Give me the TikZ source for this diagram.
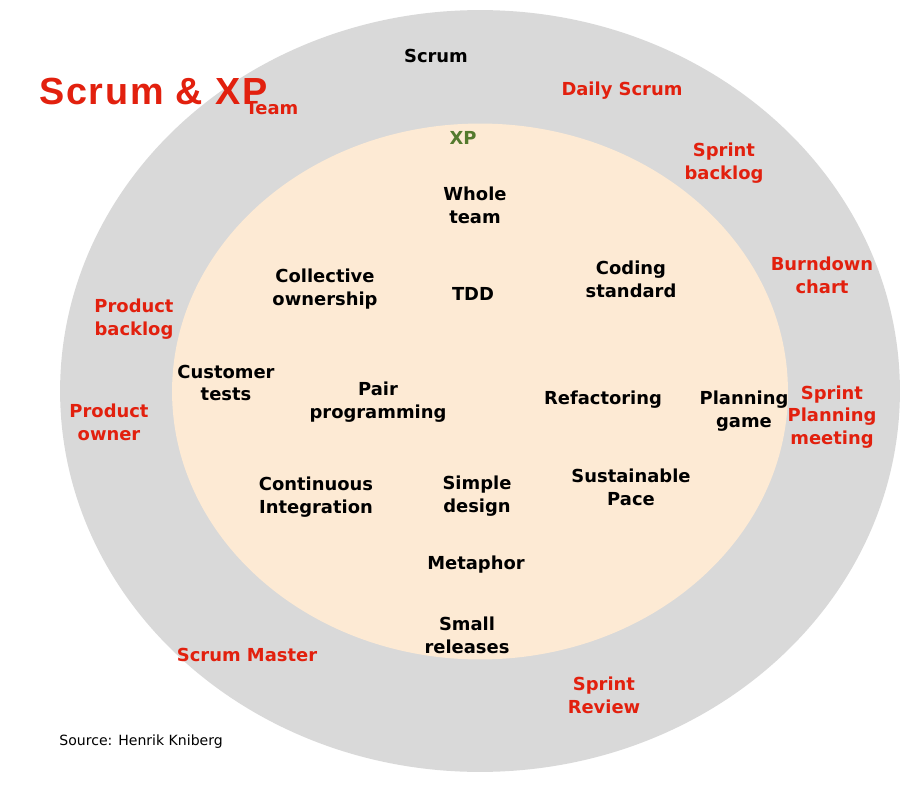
\documentclass[tikz,border=0pt]{standalone}
\usepackage{fontspec}
\setmainfont{DejaVu Sans}
\newfontfamily\titlefont[LetterSpace=4.5]{Liberation Sans}
\usepackage{tikz}
\usetikzlibrary{positioning}

\definecolor{scrumred}{RGB}{226,32,14}
\definecolor{xpgreen}{RGB}{84,122,46}
\definecolor{ringgray}{RGB}{217,217,217}
\definecolor{xppeach}{RGB}{253,234,212}

\begin{document}
\begin{tikzpicture}[
        x=0.02cm, y=-0.02cm,
        label/.style={align=center, inner sep=0pt, font=\bfseries\fontsize{10.2}{13}\selectfont},
        xpitem/.style={label, text=black},
        scrumitem/.style={label, text=scrumred}
    ]
    \useasboundingbox[fill=white] (0,0) rectangle (912,790);

    % Circles
    \fill[ringgray] (480,391) ellipse [x radius=8.4cm, y radius=7.62cm];
    \fill[xppeach] (480,391.5) ellipse [x radius=6.16cm, y radius=5.36cm];

    % Title and source
    \node[anchor=west, inner sep=0pt, text=scrumred, font=\titlefont\bfseries\fontsize{21.5}{25}\selectfont] (title) at (39,92) {Scrum \& XP};
    \node[anchor=west, inner sep=0pt, font=\fontsize{8}{9}\selectfont] (source) at (59,742) {Source: Henrik Kniberg};

    % Scrum
    \node[xpitem] (scrum) at (436,56) {Scrum};
    \node[scrumitem] (team) at (272,108) {Team};
    \node[scrumitem] (daily) at (622,91) {Daily Scrum};
    \node[scrumitem] (sbacklog) at (724,163) {Sprint\\backlog};
    \node[scrumitem] (burndown) at (822,275) {Burndown\\chart};
    \node[scrumitem] (pbacklog) at (134,319) {Product\\backlog};
    \node[scrumitem] (powner) at (109,422) {Product\\owner};
    \node[scrumitem] (splanning) at (832,417) {Sprint\\Planning\\meeting};
    \node[scrumitem] (smaster) at (247,655) {Scrum Master};
    \node[scrumitem] (sreview) at (604,695) {Sprint\\Review};

    % XP
    \node[label, text=xpgreen] (xp) at (463,138) {XP};
    \node[xpitem] (whole) at (475,205) {Whole\\team};
    \node[xpitem] (collective) at (325,289) {Collective\\ownership};
    \node[xpitem] (tdd) at (473,294) {TDD};
    \node[xpitem] (coding) at (631,279) {Coding\\standard};
    \node[xpitem] (customer) at (226,383) {Customer\\tests};
    \node[xpitem] (pair) at (378,402) {Pair\\programming};
    \node[xpitem] (refactoring) at (603,400) {Refactoring};
    \node[xpitem] (planning) at (744,411) {Planning\\game};
    \node[xpitem] (ci) at (316,497) {Continuous\\Integration};
    \node[xpitem] (simple) at (477,496) {Simple\\design};
    \node[xpitem] (pace) at (631,487) {Sustainable\\Pace};
    \node[xpitem] (metaphor) at (476,565) {Metaphor};
    \node[xpitem] (releases) at (467,635) {Small\\releases};
\end{tikzpicture}
\end{document}
